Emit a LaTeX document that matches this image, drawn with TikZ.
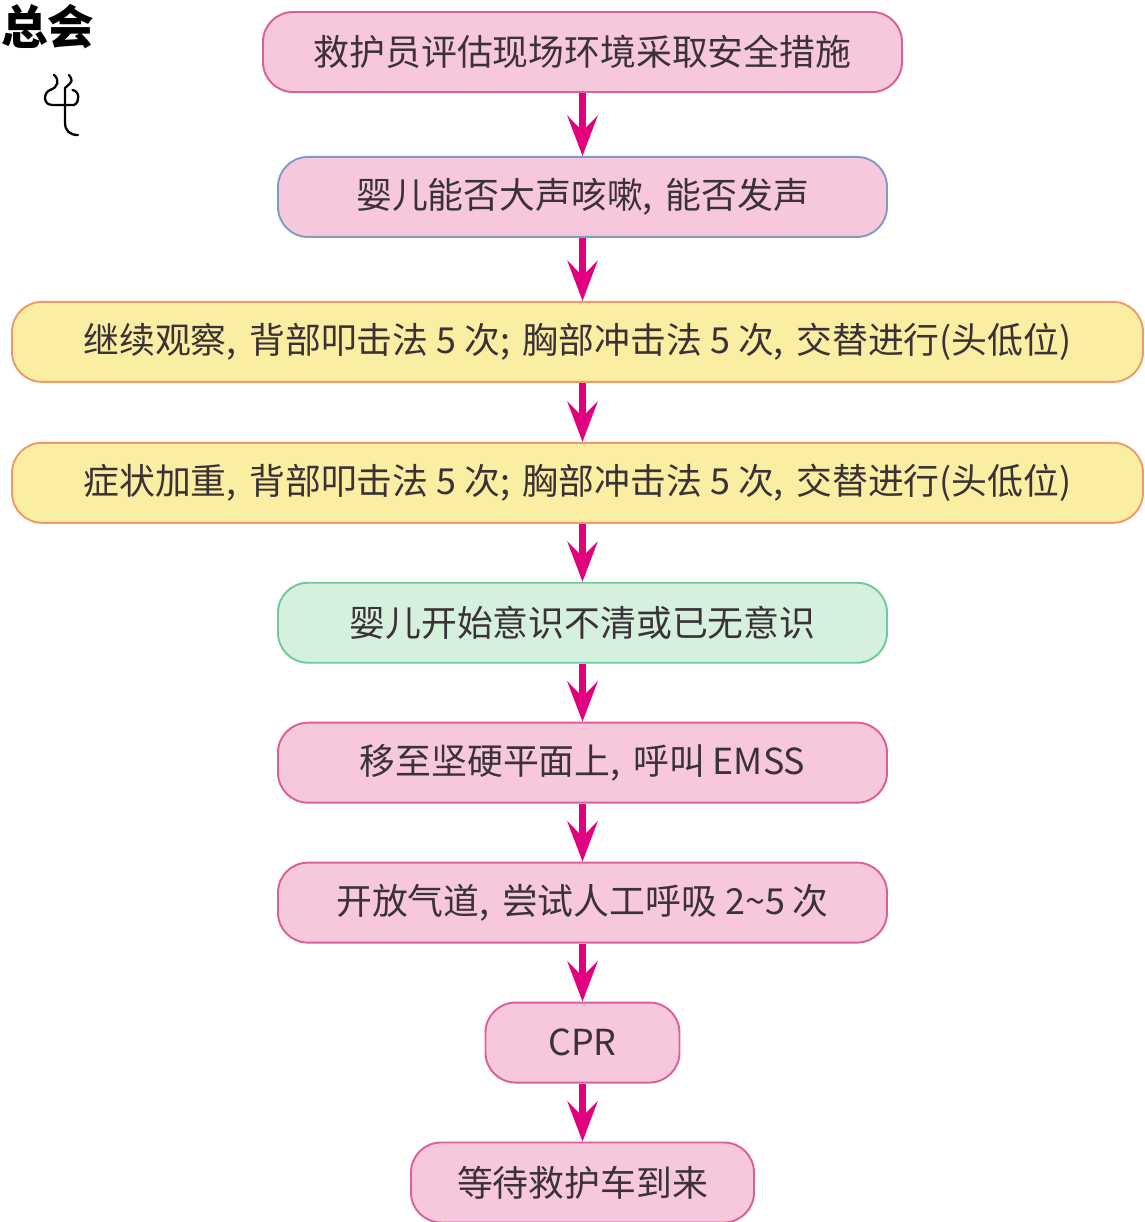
\documentclass[tikz,border=0pt]{standalone}
\usepackage{fontspec}
\newfontfamily\cjk{Noto Sans CJK SC}
\usetikzlibrary{positioning}
\usetikzlibrary {arrows.meta}
\definecolor{pinkfill}{RGB}{247,200,220}
\definecolor{pinkline}{RGB}{217,96,154}
\definecolor{blueline}{RGB}{127,156,196}
\definecolor{yellowfill}{RGB}{250,238,162}
\definecolor{yellowline}{RGB}{238,154,106}
\definecolor{greenfill}{RGB}{214,240,222}
\definecolor{greenline}{RGB}{108,203,158}
\definecolor{textgray}{RGB}{58,50,54}
\definecolor{arrowmag}{RGB}{226,0,126}
\newcommand{\cm}{,\hspace{0.35em}}
\tikzset{flowbox/.style={rectangle,rounded corners=0.6cm,line width=1.1pt,
inner sep=2pt,minimum height=1.6cm,text=textgray,font=\cjk\fontsize{20.4}{24}\selectfont}}
\tikzset{flowpink/.style={flowbox,draw=pinkline,fill=pinkfill}}
\tikzset{flowblue/.style={flowbox,draw=blueline,fill=pinkfill}}
\tikzset{flowyellow/.style={flowbox,draw=yellowline,fill=yellowfill}}
\tikzset{flowgreen/.style={flowbox,draw=greenline,fill=greenfill}}
\tikzset{flowarrow/.style={draw=arrowmag,line width=4pt,
-{Stealth[length=8mm,width=6mm,inset=3mm]}}}
\begin{document}
\begin{tikzpicture}
        \useasboundingbox (0,0) rectangle (22.88,-24.44);

        \node[anchor=north west,inner sep=0pt,font=\cjk\bfseries\fontsize{26.5}{28}\selectfont] (title) at (0.02,-0.08) {总会};
        % seal glyph
        \draw[line width=1.3pt,line cap=round] (1.08,-1.5) .. controls (1.2,-1.6) and (1.16,-1.75) .. (1.0,-1.8) .. controls (0.86,-1.86) and (0.86,-2.1) .. (1.05,-2.1) -- (1.48,-2.1) .. controls (1.6,-2.05) and (1.6,-1.82) .. (1.45,-1.8);
        \draw[line width=1.3pt,line cap=round] (1.38,-1.5) .. controls (1.46,-1.62) .. (1.3,-1.76) -- (1.3,-2.45) .. controls (1.3,-2.62) and (1.4,-2.7) .. (1.56,-2.7);

        \node[flowpink,minimum width=12.78cm] (boxA) at (11.65,-1.04) {救护员评估现场环境采取安全措施};
        \node[flowblue,minimum width=12.18cm] (boxB) [below=1.26cm of boxA] {婴儿能否大声咳嗽\cm 能否发声};
        \node[flowyellow,minimum width=22.62cm] (boxC) [below=1.26cm of boxB,xshift=-0.1cm] {继续观察\cm 背部叩击法 5 次;\hspace{0.35em}胸部冲击法 5 次\cm 交替进行(头低位)};
        \node[flowyellow,minimum width=22.62cm] (boxD) [below=1.18cm of boxC] {症状加重\cm 背部叩击法 5 次;\hspace{0.35em}胸部冲击法 5 次\cm 交替进行(头低位)};
        \node[flowgreen,minimum width=12.18cm] (boxE) [below=1.16cm of boxD,xshift=0.1cm] {婴儿开始意识不清或已无意识};
        \node[flowpink,minimum width=12.18cm] (boxF) [below=1.16cm of boxE] {移至坚硬平面上\cm 呼叫 EMSS};
        \node[flowpink,minimum width=12.18cm] (boxG) [below=1.16cm of boxF] {开放气道\cm 尝试人工呼吸 2\char"007E 5 次};
        \node[flowpink,minimum width=3.88cm] (boxH) [below=1.16cm of boxG] {CPR};
        \node[flowpink,minimum width=6.86cm] (boxI) [below=1.16cm of boxH] {等待救护车到来};

        \draw[flowarrow] (boxA.south) -- (boxA.south |- boxB.north);
        \draw[flowarrow] (boxB.south) -- (boxB.south |- boxC.north);
        \draw[flowarrow] (boxB.south |- boxC.south) -- (boxB.south |- boxD.north);
        \draw[flowarrow] (boxE.north |- boxD.south) -- (boxE.north);
        \draw[flowarrow] (boxE.south) -- (boxF.north);
        \draw[flowarrow] (boxF.south) -- (boxG.north);
        \draw[flowarrow] (boxG.south) -- (boxH.north);
        \draw[flowarrow] (boxH.south) -- (boxI.north);

\end{tikzpicture}
\end{document}
